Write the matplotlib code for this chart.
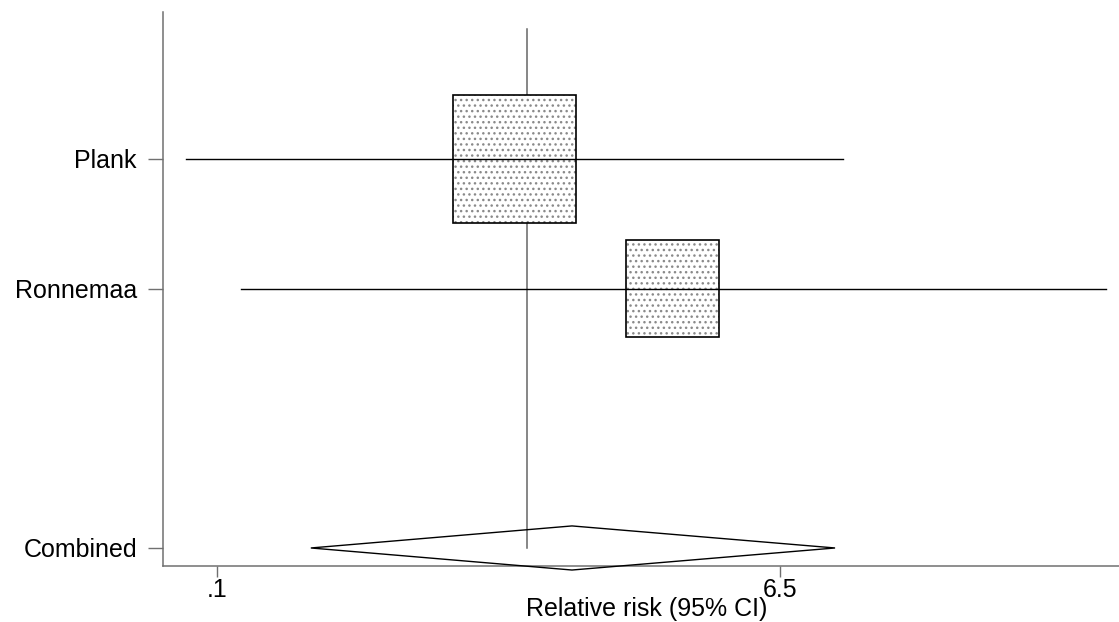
import numpy as np
import matplotlib.pyplot as plt
from matplotlib.patches import Rectangle, Polygon

plt.rcParams['font.family'] = ['Liberation Sans', 'DejaVu Sans']

# study estimates (relative risk, 95% CI) and percent weights
studies = ['Plank', 'Ronnemaa']
rr = [0.912, 2.94]
rr_lo = [0.0795, 0.1197]
rr_hi = [10.39, 72.8]
weights = [63.6, 36.4]

# pooled estimate
pooled_rr = 1.392
pooled_lo = 0.201
pooled_hi = 9.78

study_y = [4, 3]
pooled_y = 1
xticks = [0.1, 6.5]
xticklabels = ['.1', '6.5']


def forest_plot():
    fig = plt.figure(figsize=(11.19, 6.22), dpi=100)
    ax = fig.add_axes([163 / 1119, 56 / 622, 1 - 163 / 1119, 554 / 622])
    ax.set_xscale('log')
    ax.set_xlim(0.0672, 80.2)
    ax.set_ylim(0.861, 5.133)

    # line of no effect
    ax.plot([1, 1], [pooled_y, 5], color='#666666', lw=1.1, zorder=1)

    for y, est, lo, hi, w in zip(study_y, rr, rr_lo, rr_hi, weights):
        ax.plot([lo, hi], [y, y], color='black', lw=1.0, zorder=3)
        half_w = 0.0496 * np.sqrt(w) / 2
        half_h = 0.1242 * np.sqrt(w) / 2
        x0 = 10 ** (np.log10(est) - half_w)
        x1 = 10 ** (np.log10(est) + half_w)
        ax.add_patch(Rectangle((x0, y - half_h), x1 - x0, 2 * half_h,
                               facecolor='white', edgecolor='#8a8a8a',
                               hatch='...', lw=0, zorder=2))
        ax.add_patch(Rectangle((x0, y - half_h), x1 - x0, 2 * half_h,
                               fill=False, edgecolor='black', lw=1.2, zorder=4))

    dh = 0.17
    diamond = Polygon([(pooled_lo, pooled_y), (pooled_rr, pooled_y + dh),
                       (pooled_hi, pooled_y), (pooled_rr, pooled_y - dh)],
                      closed=True, fill=False, edgecolor='black', lw=1.0,
                      clip_on=False, zorder=3)
    ax.add_patch(diamond)

    ax.set_yticks(study_y + [pooled_y])
    ax.set_yticklabels(studies + ['Combined'])
    ax.set_xticks(xticks)
    ax.set_xticklabels(xticklabels)
    ax.xaxis.set_minor_locator(plt.NullLocator())

    for side in ['top', 'right']:
        ax.spines[side].set_visible(False)
    for side in ['left', 'bottom']:
        ax.spines[side].set_color('#707070')
        ax.spines[side].set_linewidth(1.1)

    ax.tick_params(axis='y', length=10.8, width=1.0, color='#707070',
                   labelsize=18, pad=8)
    ax.tick_params(axis='x', length=7.7, width=1.0, color='#707070',
                   labelsize=18, pad=1)

    fig.text(646.7 / 1119, 6 / 622, 'Relative risk (95% CI)', fontsize=18,
             ha='center', va='baseline')

    plt.savefig('out.png', dpi=100)


forest_plot()
